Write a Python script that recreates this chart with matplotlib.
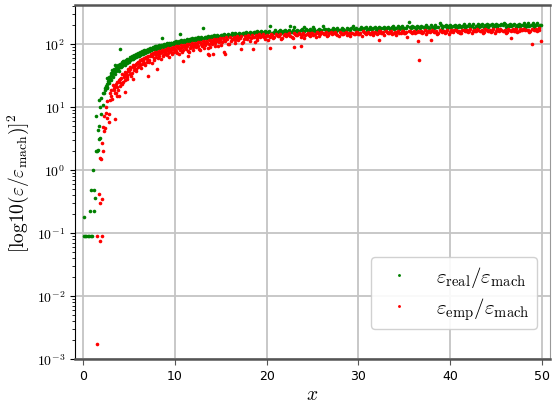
import numpy as np
import matplotlib
matplotlib.use("Agg")
import matplotlib.pyplot as plt
from matplotlib.ticker import FuncFormatter, LogLocator

plt.rcParams['mathtext.fontset'] = 'cm'

# eps_real / eps_mach  (green)
real_x = [0.10, 0.20, 0.35, 0.50, 0.65, 0.80, 0.95, 0.08, 0.76, 1.20,
          0.84, 1.12, 1.27, 1.09, 1.38, 1.48, 1.60, 1.74, 1.88, 1.60,
          1.77, 1.41, 1.99, 1.85, 2.17, 1.74, 1.99, 2.14, 2.39, 2.57,
          2.83, 2.57, 2.93, 3.12, 3.34, 3.48, 3.84, 4.05, 4.38,
          2.30, 2.42, 2.55, 2.66, 2.78, 2.90, 3.02, 3.15, 3.25, 3.38,
          3.52, 3.62, 3.70, 3.80, 3.92, 4.02, 4.12, 4.22, 4.32, 4.45,
          4.55, 4.68, 4.76, 4.88, 5.00, 5.10, 5.22, 5.34, 5.45, 5.56,
          5.68, 5.78, 5.90, 6.02, 6.12, 6.24, 6.35, 6.46, 6.58, 6.70,
          6.80, 6.92, 7.04, 7.15, 7.26, 7.38, 7.50, 7.62, 7.74, 7.86,
          7.98, 8.10, 8.22, 8.34, 8.46, 8.55, 8.66, 8.78, 8.90, 9.02,
          9.15, 9.28, 9.40, 9.55, 9.68, 9.80, 9.92, 10.05, 10.20, 10.35,
          10.50, 10.62, 10.78, 10.92, 11.08, 11.22, 11.38, 11.52, 11.68, 11.82,
          11.98, 12.14, 12.30, 12.46, 12.62, 12.78, 12.94, 13.10, 13.22, 13.38,
          13.54, 13.70, 13.86, 14.02, 14.20, 14.38, 14.56, 14.74, 14.92, 15.10,
          15.30, 15.50, 15.70, 15.90, 16.10, 16.30, 16.50, 16.70, 16.90, 17.10,
          17.30, 17.50, 17.70, 17.90, 18.10, 18.30, 18.50, 18.70, 18.90, 19.10,
          19.30, 19.50, 19.70, 19.90,
          20.10, 20.40, 20.55, 20.80, 21.05, 21.30, 21.55, 21.80, 22.05, 22.30,
          22.50, 22.75, 23.00, 23.20, 23.45, 23.70, 23.95, 24.10, 24.35, 24.60,
          24.85, 25.00, 25.30, 25.55, 25.80, 26.10, 26.35, 26.60, 26.85, 27.10,
          27.35, 27.60, 27.85, 28.10, 28.35, 28.60, 28.85, 29.10, 29.40, 29.65,
          29.90, 30.15, 30.40, 30.65, 30.90, 31.15, 31.40, 31.65, 31.90, 32.15,
          32.40, 32.65, 32.90, 33.15, 33.40, 33.65, 33.90, 34.15, 34.40, 34.65,
          34.90, 35.15, 35.50, 35.75, 36.00, 36.25, 36.50, 36.75, 37.00, 37.25,
          37.50, 37.75, 38.00, 38.25, 38.50, 38.90, 39.15, 39.40, 39.65, 39.90,
          40.15, 40.40, 40.65, 40.90, 41.15, 41.40, 41.65, 41.90, 42.15, 42.40,
          42.65, 42.90, 43.15, 43.40, 43.65, 43.90, 44.15, 44.40, 44.65, 44.90,
          45.15, 45.40, 45.90, 46.15, 46.40, 46.65, 46.90, 47.15, 47.40, 47.65,
          47.90, 48.15, 48.40, 48.65, 48.90, 49.15, 49.40, 49.65, 49.90]
real_y = [0.089, 0.089, 0.089, 0.089, 0.089, 0.089, 0.089, 0.18, 0.22, 0.22,
          0.48, 0.48, 0.36, 1.0, 2.0, 2.0, 2.05, 3.1, 3.2, 4.3,
          5.0, 7.3, 7.7, 10.0, 10.9, 12.9, 14.0, 16.7, 19.8, 21.0,
          24.0, 28.6, 27.5, 39.0, 41.0, 47.0, 45.0, 83.0, 54.0,
          17, 19, 23, 24, 27, 28, 32, 31, 35, 36,
          40, 37, 43, 41, 46, 44, 48, 46, 50, 48,
          53, 51, 55, 54, 59, 55, 61, 58, 64, 60,
          66, 63, 69, 66, 71, 68, 73, 70, 77, 73,
          79, 76, 82, 78, 84, 80, 87, 83, 88, 86,
          92, 88, 93, 90, 96, 124, 92, 97, 95, 100,
          96, 102, 99, 104, 100, 106, 102, 108, 104, 110,
          144, 107, 112, 109, 114, 111, 116, 113, 119, 115,
          120, 117, 123, 119, 125, 121, 127, 180, 124, 129,
          126, 131, 127, 133, 129, 134, 131, 137, 133, 138,
          134, 140, 136, 142, 138, 144, 140, 146, 142, 147,
          143, 149, 145, 150, 147, 152, 148, 154, 150, 155,
          151, 157, 153, 158,
          158, 195, 151, 157, 154, 162, 152, 160, 157, 164,
          195, 156, 190, 163, 158, 168, 156, 188, 165, 161,
          169, 190, 159, 167, 163, 195, 171, 160, 168, 165,
          173, 163, 170, 167, 175, 164, 172, 169, 195, 177,
          166, 175, 171, 179, 168, 176, 173, 181, 170, 178,
          174, 182, 171, 180, 176, 184, 173, 181, 177, 185,
          174, 183, 226, 179, 187, 176, 184, 180, 189, 177,
          186, 182, 190, 179, 187, 215, 183, 192, 180, 189,
          185, 193, 181, 190, 186, 195, 182, 191, 187, 196,
          183, 192, 188, 197, 184, 193, 189, 198, 185, 194,
          190, 199, 220, 186, 195, 191, 200, 188, 196, 192,
          201, 189, 197, 193, 202, 190, 198, 194, 203]

# second batch of green samples
real_x2 = [2.48, 2.62, 2.72, 2.86, 2.98, 3.08, 3.20, 3.30, 3.44, 3.58,
           3.66, 3.76, 3.86, 3.98, 4.08, 4.18, 4.28, 4.40, 4.50, 4.62,
           4.72, 4.82, 4.94, 5.05, 5.16, 5.28, 5.40, 5.50, 5.62, 5.74,
           5.84, 5.96, 6.06, 6.18, 6.30, 6.40, 6.52, 6.64, 6.75, 6.86,
           6.98, 7.10, 7.20, 7.32, 7.44, 7.56, 7.68, 7.80, 7.92, 8.04,
           8.16, 8.28, 8.40, 8.60, 8.72, 8.84, 8.96, 9.08, 9.22, 9.35,
           9.48, 9.62, 9.75, 9.88, 10.00, 10.12, 10.28, 10.42, 10.56, 10.70,
           10.85, 11.00, 11.15, 11.30, 11.45, 11.60, 11.75, 11.90, 12.05, 12.22,
           12.38, 12.54, 12.70, 12.86, 13.02, 13.30, 13.46, 13.62, 13.78, 13.94,
           14.10, 14.28, 14.46, 14.64, 14.82, 15.00, 15.20, 15.40, 15.60, 15.80,
           16.00, 16.20, 16.40, 16.60, 16.80, 17.00, 17.20, 17.40, 17.60, 17.80,
           18.00, 18.20, 18.40, 18.60, 18.80, 19.00, 19.20, 19.40, 19.60, 19.80,
           20.00, 20.25, 20.70, 20.95, 21.20, 21.45, 21.70, 21.95, 22.20, 22.40,
           22.65, 22.90, 23.10, 23.35, 23.58, 23.82, 24.05, 24.25, 24.50, 24.75,
           24.95, 25.20, 25.45, 25.70, 25.95, 26.20, 26.48, 26.72, 26.98, 27.22,
           27.48, 27.72, 27.98, 28.22, 28.48, 28.72, 28.98, 29.25, 29.52, 29.78,
           30.02, 30.28, 30.52, 30.78, 31.02, 31.28, 31.52, 31.78, 32.02, 32.28,
           32.52, 32.78, 33.02, 33.28, 33.52, 33.78, 34.02, 34.28, 34.52, 34.78,
           35.02, 35.30, 35.62, 35.88, 36.12, 36.38, 36.62, 36.88, 37.12, 37.38,
           37.62, 37.88, 38.12, 38.38, 38.70, 39.02, 39.28, 39.52, 39.78, 40.02,
           40.28, 40.52, 40.78, 41.02, 41.28, 41.52, 41.78, 42.02, 42.28, 42.52,
           42.78, 43.02, 43.28, 43.52, 43.78, 44.02, 44.28, 44.52, 44.78, 45.02,
           45.28, 45.55, 45.75, 46.02, 46.28, 46.52, 46.78, 47.02, 47.28, 47.52,
           47.78, 48.02, 48.28, 48.52, 48.78, 49.02, 49.28, 49.52, 49.78]
real_y2 = [22, 20, 26, 30, 27, 35, 30, 38, 33, 42,
           39, 46, 38, 49, 43, 52, 45, 54, 47, 57,
           50, 59, 53, 62, 58, 65, 59, 67, 62, 70,
           65, 72, 64, 75, 69, 77, 71, 80, 74, 82,
           77, 85, 79, 87, 81, 90, 84, 92, 85, 94,
           87, 96, 88, 98, 90, 100, 93, 103, 95, 104,
           97, 106, 99, 108, 101, 112, 103, 114, 105, 116,
           108, 118, 110, 120, 112, 122, 114, 124, 116, 126,
           118, 128, 120, 130, 122, 132, 124, 134, 126, 136,
           128, 138, 130, 140, 132, 142, 133, 144, 135, 146,
           137, 148, 139, 150, 141, 151, 143, 153, 145, 155,
           146, 156, 148, 158, 149, 159, 150, 160, 152, 162,
           152, 163, 153, 165, 155, 166, 156, 167, 157, 168,
           158, 169, 159, 170, 160, 171, 161, 172, 162, 173,
           163, 174, 164, 175, 165, 176, 166, 177, 167, 178,
           168, 179, 169, 180, 170, 181, 171, 182, 172, 183,
           173, 184, 174, 185, 175, 186, 176, 187, 177, 188,
           178, 189, 179, 190, 180, 191, 181, 192, 182, 193,
           183, 194, 184, 195, 185, 196, 186, 197, 187, 198,
           188, 199, 189, 200, 190, 201, 191, 202, 192, 203,
           193, 204, 194, 205, 195, 206, 196, 207, 197, 207,
           197, 208, 198, 208, 198, 209, 199, 209, 199, 210,
           200, 210, 200, 211, 201, 211, 201, 212, 202, 212,
           202, 213, 203, 213, 203, 214, 204, 214, 204]

# eps_emp / eps_mach  (red)
emp_x = [1.55, 2.10, 1.82, 1.45, 1.77, 2.07, 1.88, 1.88, 1.99, 2.17,
         2.03, 2.25, 2.14, 2.42, 2.83, 2.25, 2.47, 2.86, 2.64, 3.48,
         2.50, 2.64, 2.93, 3.19, 3.08, 2.90, 3.48, 3.70, 3.90, 4.60,
         3.30, 3.00, 3.22, 3.66, 3.95, 4.20, 4.75, 5.47, 7.10, 8.00,
         3.35, 3.55, 3.62, 3.80, 3.88, 4.05, 4.15, 4.30, 4.40, 4.52,
         4.65, 4.80, 4.90, 5.05, 5.15, 5.30, 5.38, 5.52, 5.62, 5.75,
         5.85, 5.98, 6.08, 6.20, 6.30, 6.42, 6.55, 6.65, 6.78, 6.90,
         7.00, 7.22, 7.30, 7.45, 7.55, 7.68, 7.78, 7.90, 8.12, 8.25,
         8.36, 8.48, 8.60, 8.72, 8.84, 8.96, 9.08, 9.20, 9.32, 9.45,
         9.58, 9.70, 9.85, 10.00, 10.15, 10.30, 10.45, 10.60, 10.75, 10.90,
         11.05, 11.20, 11.35, 11.50, 11.65, 11.80, 11.95, 12.10, 12.25, 12.40,
         12.55, 12.70, 12.85, 13.00, 13.15, 13.30, 13.45, 13.60, 13.75, 13.90,
         14.05, 14.20, 14.35, 14.50, 14.65, 14.80, 14.95, 15.10, 15.30, 15.50,
         15.70, 15.90, 16.10, 16.30, 16.50, 16.70, 16.90, 17.10, 17.30, 17.50,
         17.70, 17.90, 18.10, 18.30, 18.50, 18.70, 18.90, 19.10, 19.30, 19.50,
         19.70, 19.90, 20.10, 20.35, 20.60, 20.85, 21.10, 21.35, 21.60, 21.85,
         22.10, 22.35, 22.60, 22.85, 23.10, 23.35, 23.60, 23.85, 24.10, 24.35,
         24.60, 24.85, 25.10, 25.35, 25.60, 25.85, 26.10, 26.35, 26.60, 26.85,
         27.10, 27.35, 27.60, 27.85,
         28.10, 28.35, 28.60, 28.85, 29.10, 29.35, 29.60, 29.85, 30.10, 30.35,
         30.60, 30.85, 31.10, 31.35, 31.60, 31.85, 32.10, 32.35, 32.60, 32.85,
         33.10, 33.35, 33.60, 33.85, 34.10, 34.35, 34.60, 34.85, 35.10, 35.35,
         35.60, 35.85, 36.10, 36.35, 36.60, 36.85, 37.10, 37.35, 37.60, 37.85,
         38.10, 38.35, 38.60, 38.85, 39.10, 39.35, 39.60, 39.85, 40.10, 40.35,
         40.60, 40.85, 41.10, 41.35, 41.60, 41.85, 42.10, 42.35, 42.60, 42.85,
         43.10, 43.35, 43.60, 43.85, 44.10, 44.35, 44.60, 44.85, 45.10, 45.35,
         45.60, 45.85, 46.10, 46.35, 46.60, 46.85, 47.10, 47.35, 47.60, 47.85,
         48.10, 48.35, 48.60, 48.95, 49.15, 49.40, 49.65, 49.90]
emp_y = [0.089, 0.089, 0.076, 0.0017, 0.41, 0.35, 0.30, 1.58, 1.48, 1.98,
         2.66, 4.1, 4.9, 4.7, 5.7, 7.3, 8.2, 7.9, 6.6, 6.4,
         10.1, 12.7, 12.9, 13.4, 15.2, 16.5, 16.7, 15.2, 15.0, 17.1,
         19.0, 18.8, 22.4, 21.0, 25.5, 23.0, 28.0, 27.5, 31.0, 41.0,
         20, 17, 23, 19, 27, 22, 29, 25, 32, 27,
         35, 30, 38, 33, 40, 35, 44, 39, 47, 41,
         50, 44, 52, 46, 55, 49, 57, 51, 60, 53,
         62, 55, 64, 50, 67, 60, 69, 62, 71, 64,
         74, 58, 76, 68, 78, 70, 80, 72, 62, 81,
         74, 83, 76, 85, 78, 87, 69, 80, 89, 82,
         91, 84, 93, 75, 87, 95, 89, 98, 91, 100,
         93, 82, 102, 95, 104, 97, 106, 88, 100, 108,
         102, 111, 104, 113, 94, 107, 115, 109, 118, 111,
         120, 99, 114, 122, 116, 124, 118, 126, 105, 120,
         128, 122, 130, 124, 132, 110, 126, 134, 128, 136,
         130, 136, 116, 131, 138, 132, 140, 134, 121, 141,
         135, 143, 137, 124, 144, 138, 146, 140, 127, 146,
         140, 148, 142, 130, 149, 143, 150, 145, 133, 151,
         145, 152, 146, 135,
         152, 145, 155, 146, 135, 153, 146, 156, 147, 137,
         154, 147, 158, 148, 138, 156, 149, 159, 150, 140,
         157, 150, 160, 151, 141, 159, 151, 162, 152, 132,
         160, 153, 163, 154, 56, 161, 154, 145, 164, 155,
         162, 155, 146, 165, 156, 164, 157, 147, 167, 158,
         165, 158, 149, 168, 159, 166, 159, 150, 169, 160,
         168, 161, 151, 171, 162, 169, 162, 152, 172, 163,
         170, 163, 153, 173, 164, 171, 164, 155, 174, 165,
         173, 166, 157, 100, 167, 175, 170, 112]

# second batch of red samples (last 16 are the low tail)
emp_x2 = [3.45, 3.72, 3.98, 4.10, 4.25, 4.48, 4.58, 4.72, 4.85, 4.98,
          5.10, 5.25, 5.42, 5.58, 5.70, 5.80, 5.92, 6.04, 6.16, 6.26,
          6.38, 6.50, 6.62, 6.72, 6.84, 6.96, 7.06, 7.18, 7.36, 7.50,
          7.62, 7.72, 7.84, 7.96, 8.06, 8.18, 8.30, 8.42, 8.54, 8.66,
          8.78, 8.90, 9.02, 9.14, 9.26, 9.38, 9.52, 9.64, 9.78, 9.92,
          10.08, 10.22, 10.38, 10.52, 10.68, 10.82, 10.98, 11.12, 11.28, 11.42,
          11.58, 11.72, 11.88, 12.02, 12.18, 12.32, 12.48, 12.62, 12.78, 12.92,
          13.08, 13.22, 13.38, 13.52, 13.68, 13.82, 13.98, 14.12, 14.28, 14.42,
          14.58, 14.72, 14.88, 15.02, 15.20, 15.40, 15.60, 15.80, 16.00, 16.20,
          16.40, 16.60, 16.80, 17.00, 17.20, 17.40, 17.60, 17.80, 18.00, 18.20,
          18.40, 18.60, 18.80, 19.00, 19.20, 19.40, 19.60, 19.80, 20.00, 20.22,
          20.48, 20.72, 20.98, 21.22, 21.48, 21.72, 21.98, 22.22, 22.48, 22.72,
          22.98, 23.22, 23.48, 23.72, 23.98, 24.22, 24.48, 24.72, 24.98, 25.22,
          25.48, 25.72, 25.98, 26.22, 26.48, 26.72, 26.98, 27.22, 27.48, 27.72,
          27.98, 28.22, 28.48, 28.72, 28.98, 29.22, 29.48, 29.72, 29.98, 30.22,
          30.48, 30.72, 30.98, 31.22, 31.48, 31.72, 31.98, 32.22, 32.48, 32.72,
          32.98, 33.22, 33.48, 33.72, 33.98, 34.22, 34.48, 34.72, 34.98, 35.22,
          35.48, 35.72, 35.98, 36.22, 36.48, 36.72, 36.98, 37.22, 37.48, 37.72,
          37.98, 38.22, 38.48, 38.72, 38.98, 39.22, 39.48, 39.72, 39.98, 40.22,
          40.48, 40.72, 40.98, 41.22, 41.48, 41.72, 41.98, 42.22, 42.48, 42.72,
          42.98, 43.22, 43.48, 43.72, 43.98, 44.22, 44.48, 44.72, 44.98, 45.22,
          45.48, 45.72, 45.98, 46.22, 46.48, 46.72, 46.98, 47.22, 47.48, 47.72,
          47.98, 48.22, 48.48, 48.72, 48.98, 49.22, 49.48, 49.72,
          10.90, 11.40, 13.60, 13.70, 14.20, 15.40, 15.50, 17.20, 18.50, 20.40,
          23.00, 23.80, 32.30, 36.50, 37.90, 46.70]
emp_y2 = [22, 25, 28, 24, 33, 30, 36, 32, 40, 37,
          43, 31, 46, 43, 49, 38, 52, 48, 55, 42,
          58, 54, 61, 47, 63, 59, 66, 52, 69, 64,
          72, 55, 74, 69, 76, 60, 78, 73, 80, 64,
          82, 76, 84, 67, 86, 79, 88, 70, 90, 83,
          92, 73, 94, 86, 96, 76, 98, 89, 100, 79,
          102, 92, 104, 82, 106, 96, 108, 85, 110, 99,
          112, 88, 114, 103, 116, 91, 118, 107, 120, 95,
          122, 111, 124, 98, 126, 115, 128, 102, 130, 119,
          132, 106, 134, 123, 136, 110, 137, 127, 139, 114,
          140, 131, 142, 118, 143, 134, 145, 122, 142, 134,
          144, 123, 145, 136, 146, 126, 147, 138, 148, 129,
          149, 140, 150, 131, 151, 142, 152, 134, 153, 144,
          154, 136, 155, 146, 156, 138, 157, 148, 158, 139,
          156, 147, 150, 140, 153, 149, 143, 158, 146, 152,
          159, 150, 153, 143, 156, 152, 146, 161, 149, 154,
          161, 152, 155, 145, 158, 154, 148, 163, 151, 156,
          164, 155, 158, 148, 161, 157, 151, 166, 154, 159,
          166, 157, 160, 150, 163, 159, 153, 168, 156, 161,
          169, 160, 163, 153, 166, 162, 156, 171, 159, 164,
          171, 162, 165, 155, 168, 164, 158, 173, 161, 166,
          173, 164, 167, 157, 170, 166, 160, 175, 163, 168,
          176, 167, 170, 160, 173, 169, 163, 178,
          54, 64, 69, 67, 69, 75, 71, 85, 85, 88,
          90, 95, 115, 113, 117, 124]

fig = plt.figure(figsize=(5.53, 4.06), dpi=100)
ax = fig.add_axes([0.1356, 0.1133, 0.8590, 0.8717])

ms = 2.6
ax.plot(real_x + real_x2, real_y + real_y2, 'o', color='green', markersize=ms,
        markeredgewidth=0, label=r'$\varepsilon_{\rm real}/\varepsilon_{\rm mach}$')
ax.plot(emp_x + emp_x2, emp_y + emp_y2, 'o', color='red', markersize=ms,
        markeredgewidth=0, label=r'$\varepsilon_{\rm emp}/\varepsilon_{\rm mach}$')

ax.set_yscale('log')
ax.set_xlim(-0.9, 50.9)
ax.set_ylim(1e-3, 417)
ax.set_xticks([0, 10, 20, 30, 40, 50])
ax.yaxis.set_major_locator(LogLocator(base=10, numticks=10))
ax.yaxis.set_minor_locator(LogLocator(base=10, subs=np.arange(2, 10), numticks=20))
ax.yaxis.set_major_formatter(FuncFormatter(lambda v, p: r'$10^{%d}$' % round(np.log10(v))))

ax.grid(True, which='major', color='#c4c4c4', linewidth=1.3)
ax.set_axisbelow(True)

for s in ['top', 'bottom']:
    ax.spines[s].set_color('#555555')
    ax.spines[s].set_linewidth(1.8)
ax.spines['left'].set_color('black')
ax.spines['right'].set_color('#999999')

ax.tick_params(axis='x', labelsize=9, color='#555555', length=4)
ax.tick_params(axis='y', labelsize=10)

ax.set_xlabel(r'$x$', fontsize=14, labelpad=1)
ax.set_ylabel(r'$[\mathrm{log10}(\varepsilon/\varepsilon_{\rm mach})]^2$', fontsize=14)

ax.legend(loc='lower right', bbox_to_anchor=(0.995, 0.055), fontsize=15,
          markerscale=0.8, handlelength=2.0, handletextpad=0.8,
          labelspacing=0.3, borderpad=0.35, framealpha=0.9)

fig.savefig('out.png', dpi=100)
